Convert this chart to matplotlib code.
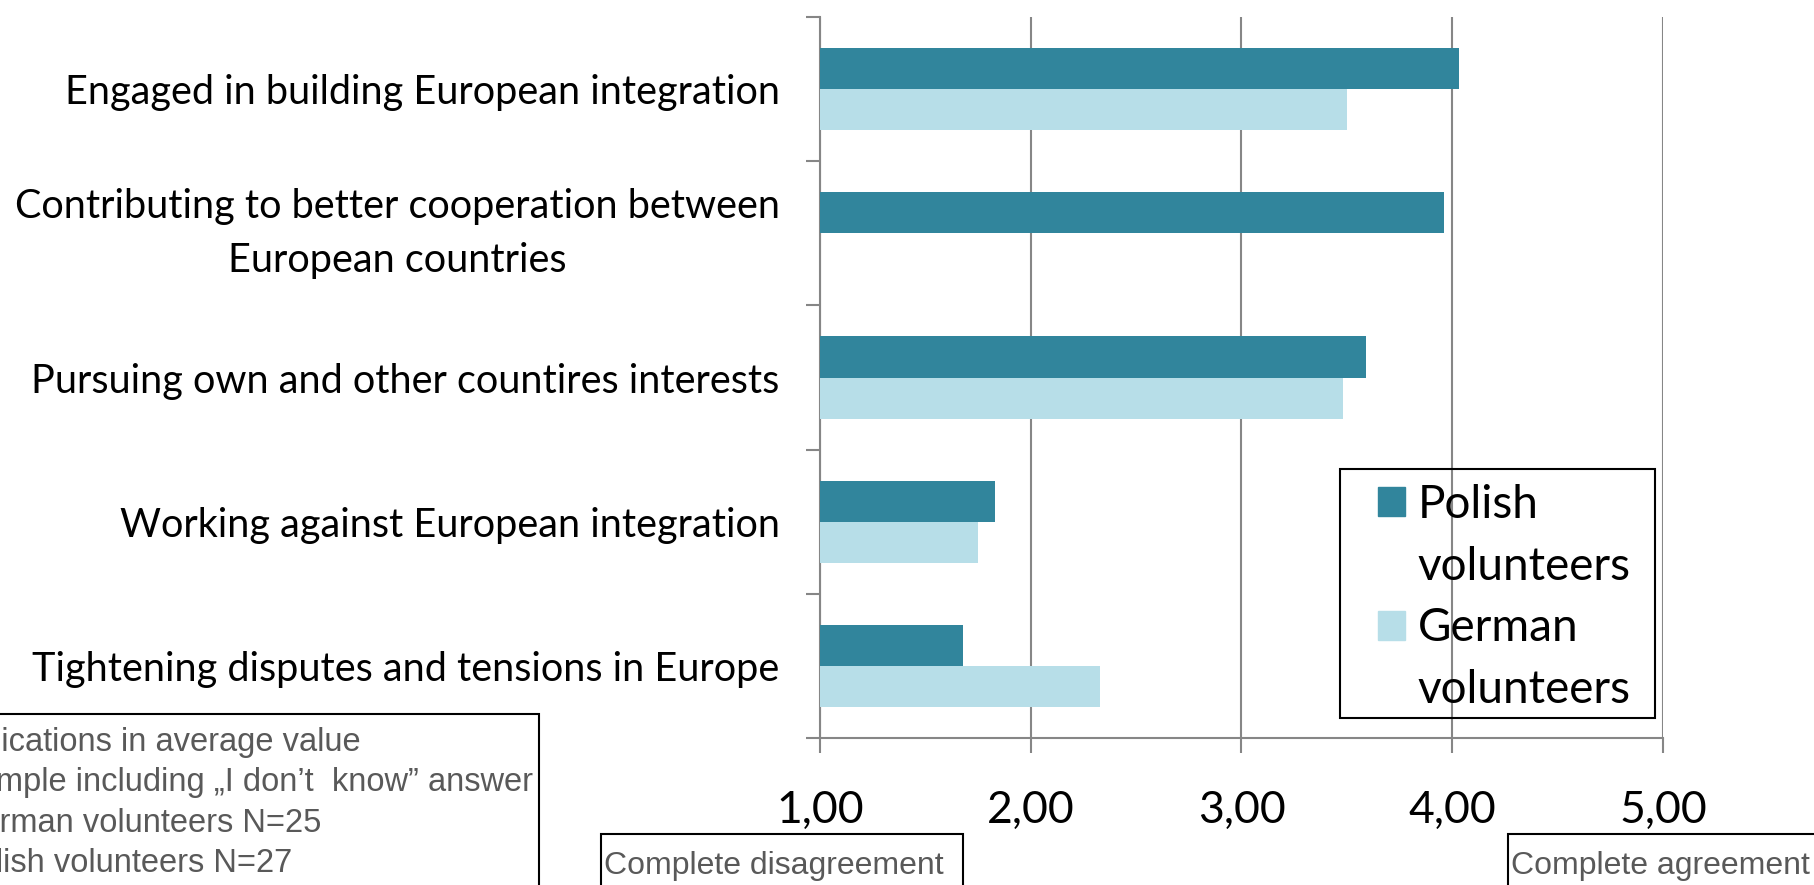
import numpy as np
import matplotlib.pyplot as plt
from matplotlib.patches import Rectangle

categories = [
    "Engaged in building European integration",
    "Contributing to better cooperation between\nEuropean countries",
    "Pursuing own and other countires interests",
    "Working against European integration",
    "Tightening disputes and tensions in Europe",
]
polish = [4.03, 3.96, 3.59, 1.83, 1.68]
german = [3.50, np.nan, 3.48, 1.75, 2.33]
x_ticks = [1, 2, 3, 4, 5]
x_labels = ["1,00", "2,00", "3,00", "4,00", "5,00"]
notes = [
    "Indications in average value",
    "Sample including \u201eI don\u2019t  know\u201d answer",
    "German volunteers N=25",
    "Polish volunteers N=27",
]

POLISH_COL = "#31859c"
GERMAN_COL = "#b7dee8"
GRID_COL = "#868686"
NOTE_COL = "#595959"

W, H = 1814, 885
fig = plt.figure(figsize=(W / 100, H / 100), dpi=100)


def fx(px):
    return px / W


def fy(py):
    # pixel from top -> figure fraction from bottom
    return 1 - py / H


ax = fig.add_axes([fx(820), fy(738), fx(1663 - 820), (738 - 17) / H])

y = np.arange(len(categories))
bh = 0.285
ax.barh(y - bh / 2, polish, height=bh, color=POLISH_COL, zorder=3)
ax.barh(y + bh / 2, german, height=bh, color=GERMAN_COL, zorder=3)

ax.set_xlim(1, 5)
ax.set_ylim(len(categories) - 0.5, -0.5)
ax.set_xticks(x_ticks)
ax.set_xticklabels(x_labels, fontsize=32, family="Lato")
ax.set_yticks(y)
ax.set_yticklabels(categories, fontsize=28.5, family="Lato")
for lab in ax.get_yticklabels():
    if "\n" in lab.get_text():
        lab.set_multialignment("center")
        lab.set_linespacing(1.55)
        lab.set_verticalalignment("center")
ax.set_yticks(np.arange(-0.5, len(categories), 1), minor=True)

ax.tick_params(axis="y", which="major", length=0, pad=29)
ax.tick_params(axis="y", which="minor", length=10, width=1.5, color=GRID_COL)
ax.tick_params(axis="x", length=11, width=1.5, color=GRID_COL, pad=26.5)

ax.grid(axis="x", color=GRID_COL, linewidth=1.5, zorder=0)
ax.set_axisbelow(True)
for s in ["top", "right"]:
    ax.spines[s].set_visible(False)
for s in ["left", "bottom"]:
    ax.spines[s].set_color(GRID_COL)
    ax.spines[s].set_linewidth(1.5)

# legend: handle next to first line of each label, frame drawn separately
h1 = Rectangle((0, 0), 1, 1, color=POLISH_COL)
h2 = Rectangle((0, 0), 1, 1, color=GERMAN_COL)
blank = Rectangle((0, 0), 1, 1, alpha=0)
leg = fig.legend(
    [h1, blank, h2, blank],
    ["Polish", "volunteers", "German", "volunteers"],
    loc="upper left",
    bbox_to_anchor=(fx(1378), fy(484)),
    prop={"family": "Lato", "size": 33},
    handlelength=0.59,
    handleheight=0.59,
    handletextpad=0.28,
    labelspacing=0.43,
    borderpad=0,
    borderaxespad=0,
    frameon=False,
)
fig.patches.append(Rectangle((fx(1340), fy(718)), fx(1655 - 1340), (718 - 469) / H,
                             transform=fig.transFigure, fill=False, edgecolor="black",
                             linewidth=1.5))

# note box, bottom left (runs off the canvas)
fig.patches.append(Rectangle((fx(-20), fy(H + 20)), fx(539 + 20), (H + 20 - 714) / H,
                             transform=fig.transFigure, fill=False, edgecolor="black",
                             linewidth=1.5))
for i, line in enumerate(notes):
    fig.text(fx(-44), fy(743 + 40 * i), line, fontsize=23.5, family="Liberation Sans",
             color=NOTE_COL, va="center", ha="left")

# scale end labels
for x0, x1, txt in [(601, 963, "Complete disagreement"), (1508, W + 20, "Complete agreement")]:
    fig.patches.append(Rectangle((fx(x0), fy(H + 20)), fx(x1 - x0), (H + 20 - 834) / H,
                                 transform=fig.transFigure, fill=False, edgecolor="black",
                                 linewidth=1.5))
    fig.text(fx(x0 + 3), fy(866), txt, fontsize=23, family="Liberation Sans",
             color=NOTE_COL, va="center", ha="left")

fig.savefig("out.png", dpi=100)
